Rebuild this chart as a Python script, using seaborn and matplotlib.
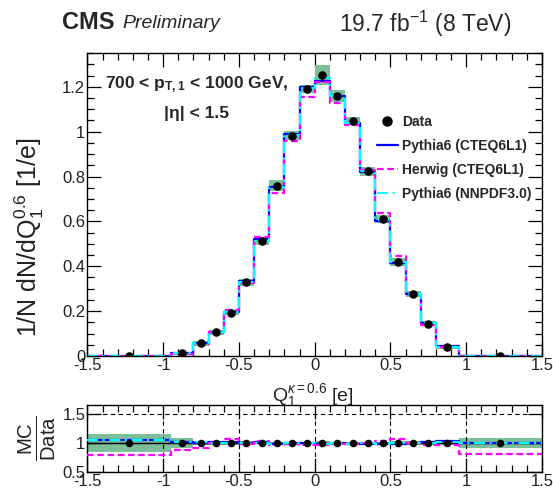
import numpy as np
import pandas as pd
import matplotlib
matplotlib.use("Agg")
import matplotlib.pyplot as plt
import seaborn as sns
from matplotlib.ticker import MultipleLocator, FuncFormatter
from matplotlib.lines import Line2D

# ---------------- data ----------------
edges = [-1.5, -0.95, -0.8, -0.7, -0.6, -0.5, -0.4, -0.3, -0.2, -0.1, 0.0,
         0.1, 0.2, 0.3, 0.4, 0.5, 0.6, 0.7, 0.8, 0.95, 1.5]
data_vals = [0.002, 0.012, 0.056, 0.105, 0.193, 0.328, 0.511, 0.760, 0.983, 1.192,
             1.252, 1.160, 1.048, 0.824, 0.610, 0.419, 0.276, 0.144, 0.041, 0.001]
data_unc = [0.002, 0.008, 0.010, 0.010, 0.012, 0.017, 0.015, 0.025, 0.020, 0.018,
            0.045, 0.026, 0.016, 0.020, 0.017, 0.016, 0.012, 0.012, 0.010, 0.002]
pythia_cteq = [0.002, 0.013, 0.058, 0.108, 0.198, 0.335, 0.520, 0.755, 0.990, 1.200,
               1.228, 1.160, 1.040, 0.820, 0.600, 0.415, 0.278, 0.148, 0.046, 0.001]
herwig_cteq = [0.0015, 0.011, 0.052, 0.105, 0.207, 0.325, 0.530, 0.727, 0.960, 1.155,
               1.220, 1.130, 1.030, 0.830, 0.636, 0.445, 0.275, 0.140, 0.040, 0.0008]
pythia_nnpdf = [0.002, 0.012, 0.057, 0.106, 0.195, 0.330, 0.512, 0.752, 0.985, 1.195,
                1.240, 1.160, 1.040, 0.825, 0.605, 0.420, 0.276, 0.145, 0.042, 0.001]

ratio_pythia = [1.06, 1.02, 1.00, 1.01, 1.02, 1.00, 1.01, 0.99, 1.00, 1.00,
                0.98, 1.00, 0.99, 0.99, 0.98, 0.99, 1.00, 1.02, 1.04, 1.00]
ratio_herwig = [0.79, 0.88, 0.92, 1.00, 1.07, 0.99, 1.03, 0.96, 0.98, 0.97,
                0.97, 0.98, 0.98, 1.00, 1.04, 1.07, 1.00, 0.97, 0.97, 0.81]
ratio_nnpdf = [1.06, 1.01, 1.01, 1.00, 1.00, 1.00, 1.00, 0.99, 1.00, 1.00,
               0.99, 1.00, 0.99, 1.00, 0.99, 1.00, 1.00, 1.00, 1.02, 1.00]
ratio_data = [1.0] * 20
ratio_band = [0.155, 0.085, 0.03, 0.03, 0.03, 0.03, 0.02, 0.02, 0.02, 0.02,
              0.03, 0.02, 0.02, 0.02, 0.02, 0.03, 0.03, 0.03, 0.04, 0.085]

labels = ["Data", "Pythia6 (CTEQ6L1)", "Herwig (CTEQ6L1)", "Pythia6 (NNPDF3.0)"]
colors = ["black", "#0000ff", "#ff00ff", "#00ffff"]
green = "#7dbf99"

# ---------------- style ----------------
sns.set_theme(style="ticks")
plt.rcParams["font.family"] = ["Liberation Sans", "DejaVu Sans"]
plt.rcParams["axes.unicode_minus"] = False
plt.rcParams["mathtext.fontset"] = "custom"
plt.rcParams["mathtext.rm"] = "Liberation Sans"
plt.rcParams["mathtext.it"] = "Liberation Sans:italic"
plt.rcParams["mathtext.bf"] = "Liberation Sans:bold"

edges_a = np.array(edges)
centers = 0.5 * (edges_a[:-1] + edges_a[1:])
widths = np.diff(edges_a)
halfw = widths / 2

fig = plt.figure(figsize=(5.53, 4.88), dpi=100)
ax = fig.add_axes([0.158, 0.2705, 0.822, 0.6205])
rax = fig.add_axes([0.158, 0.0328, 0.822, 0.137])

lstyles = ["-", (0, (3, 1.6)), (0, (5, 2, 1, 2))]


def step_df(vals):
    return pd.DataFrame({"x": edges, "y": list(vals) + [vals[-1]]})


# main panel
d_lo = np.array(data_vals) - np.array(data_unc)
ax.bar(edges[:-1], 2 * np.array(data_unc), bottom=d_lo, width=widths, align="edge",
       color=green, linewidth=0, zorder=1)
for vals, c, ls in zip([pythia_cteq, herwig_cteq, pythia_nnpdf], colors[1:], lstyles):
    sns.lineplot(data=step_df(vals), x="x", y="y", drawstyle="steps-post", color=c,
                 linestyle=ls, linewidth=1.6, ax=ax, estimator=None, sort=False, zorder=2)
sns.scatterplot(x=centers, y=data_vals, color="black", s=38, linewidth=0, ax=ax, zorder=4)

ax.set_xlim(-1.5, 1.5)
ax.set_ylim(0, 1.35)

# ratio panel
r_lo = np.array(ratio_data) - np.array(ratio_band)
rax.bar(edges[:-1], 2 * np.array(ratio_band), bottom=r_lo, width=widths, align="edge",
        color=green, linewidth=0, zorder=1)
rax.errorbar(centers, ratio_data, xerr=halfw, yerr=0.02, fmt="none", ecolor="black",
             elinewidth=1.0, zorder=2)
for vals, c, ls in zip([ratio_pythia, ratio_herwig, ratio_nnpdf], colors[1:], lstyles):
    sns.lineplot(data=step_df(vals), x="x", y="y", drawstyle="steps-post", color=c,
                 linestyle=ls, linewidth=1.6, ax=rax, estimator=None, sort=False, zorder=3)
sns.scatterplot(x=centers, y=ratio_data, color="black", s=30, linewidth=0, ax=rax, zorder=4)
rax.set_xlim(-1.5, 1.5)
rax.set_ylim(0.5, 1.655)
rax.grid(True, which="major", color="black", linestyle=(0, (4, 3)), linewidth=0.8)
rax.set_axisbelow(False)

fmt = FuncFormatter(lambda v, p: "%g" % round(v, 3))
for a in (ax, rax):
    a.xaxis.set_major_locator(MultipleLocator(0.5))
    a.xaxis.set_minor_locator(MultipleLocator(0.1))
    a.xaxis.set_major_formatter(fmt)
    a.yaxis.set_major_formatter(fmt)
    a.tick_params(which="both", direction="in", top=True, right=True, labelsize=12,
                  colors="black", labelcolor="#222222", width=0.9, pad=1.5)
    a.tick_params(which="major", length=10)
    a.tick_params(which="minor", length=5)
    a.set_xlabel("")
    a.set_ylabel("")
    for s in a.spines.values():
        s.set_color("black")
        s.set_linewidth(1.0)
ax.yaxis.set_major_locator(MultipleLocator(0.2))
ax.yaxis.set_minor_locator(MultipleLocator(0.05))
rax.yaxis.set_major_locator(MultipleLocator(0.5))
rax.yaxis.set_minor_locator(MultipleLocator(0.1))
rax.tick_params(axis="y", which="minor", length=0)

# axis titles
ax.set_ylabel(r"1/N dN/d$\mathrm{Q}_1^{0.6}$ [1/e]", fontsize=18, color="#222222")
ax.yaxis.set_label_coords(-0.09, 0.39)
ax.set_xlabel(r"$\mathrm{Q}_1^{\kappa=0.6}$ [e]", fontsize=14, color="#222222")
ax.xaxis.set_label_coords(0.496, -0.085)
rax.set_ylabel(r"$\frac{\mathrm{MC}}{\mathrm{Data}}$", fontsize=21, color="#222222")
rax.yaxis.set_label_coords(-0.065, 0.5)

# texts
ax.text(0.24, 0.897, r"700 < $\mathbf{p}_{\mathbf{T,1}}$ < 1000 GeV,", transform=ax.transAxes,
        ha="center", va="center", fontsize=12.5, fontweight="bold")
ax.text(0.24, 0.80, "|η| < 1.5", transform=ax.transAxes, ha="center", va="center",
        fontsize=12.5, fontweight="bold")
fig.text(0.112, 0.953, "CMS", fontsize=17, fontweight="bold", ha="left", va="center")
fig.text(0.222, 0.951, "Preliminary", fontsize=14, fontstyle="italic", ha="left", va="center")
fig.text(0.925, 0.951, r"19.7 fb$^{-1}$ (8 TeV)", fontsize=16.5, ha="right", va="center")

# legend
handles = [
    Line2D([], [], color="black", marker="o", linestyle="none", markersize=6.5),
    Line2D([], [], color=colors[1], linestyle=lstyles[0], linewidth=1.6),
    Line2D([], [], color=colors[2], linestyle=lstyles[1], linewidth=1.6),
    Line2D([], [], color=colors[3], linestyle=lstyles[2], linewidth=1.6),
]
leg = ax.legend(handles, labels, loc="upper left", bbox_to_anchor=(0.625, 0.815),
                frameon=False, prop={"size": 10, "weight": "bold"}, handlelength=1.5,
                handletextpad=0.3, labelspacing=0.72, borderaxespad=0)

fig.savefig("out.png", dpi=100)
